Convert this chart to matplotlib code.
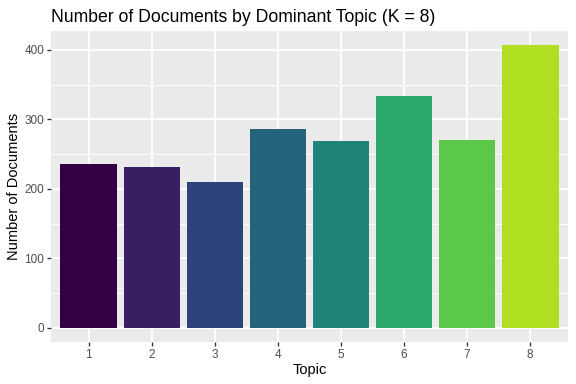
import matplotlib
matplotlib.use("Agg")
import matplotlib.pyplot as plt
from matplotlib.ticker import MultipleLocator

topics = ["1", "2", "3", "4", "5", "6", "7", "8"]
counts = [236, 232, 210, 286, 269, 334, 271, 407]
colors = ["#330042", "#381E63", "#2C4279", "#24637B",
          "#1F837A", "#2AA86C", "#5BC84A", "#B0DE21"]

plt.rcParams["font.family"] = ["Liberation Sans", "DejaVu Sans"]

fig = plt.figure(figsize=(6, 4), dpi=96)
ax = fig.add_axes([51 / 576, 1 - 342 / 384, (568 - 51) / 576, (342 - 31) / 384])

x = list(range(1, len(topics) + 1))
ax.set_facecolor("#EBEBEB")
ax.bar(x, counts, width=0.9, color=colors, zorder=3)

# ggplot-style limits (5% expansion on y, 0.6 on discrete x)
top = max(counts)
ax.set_ylim(-0.05 * top, 1.05 * top)
ax.set_xlim(0.4, len(topics) + 0.6)

ax.set_xticks(x)
ax.set_xticklabels(topics)
ax.yaxis.set_major_locator(MultipleLocator(100))
ax.yaxis.set_minor_locator(MultipleLocator(50))

ax.grid(which="major", color="white", linewidth=1.4, zorder=1)
ax.grid(which="minor", axis="y", color="white", linewidth=0.7, zorder=1)
for s in ax.spines.values():
    s.set_visible(False)

ax.tick_params(axis="both", which="major", length=2.75, width=1.0,
               color="#333333", labelsize=8.8, labelcolor="#4D4D4D", pad=2.2)
ax.tick_params(axis="both", which="minor", length=0)

ax.set_xlabel("Topic", fontsize=11, color="black", labelpad=2)
ax.set_ylabel("Number of Documents", fontsize=11, color="black", labelpad=3)
ax.set_title("Number of Documents by Dominant Topic (K = 8)", fontsize=13.2,
             loc="left", pad=7)

fig.savefig("out.png", dpi=96)
